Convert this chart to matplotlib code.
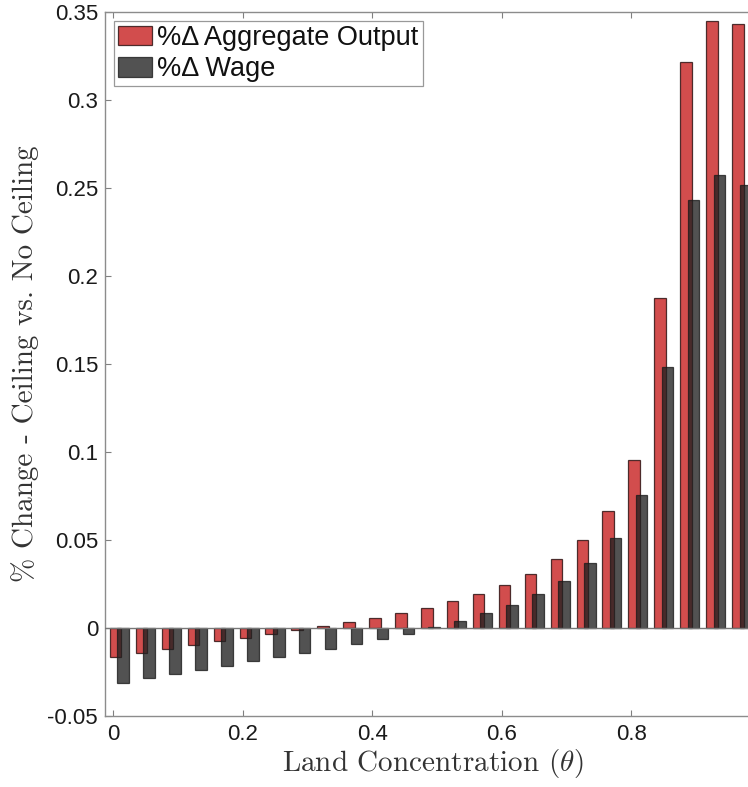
"""
Land concentration: % change in output and wage, ceiling vs. no ceiling
MATLAB-style grouped bars
"""
import matplotlib
matplotlib.use('Agg')
import matplotlib.pyplot as plt

plt.rcParams['axes.unicode_minus'] = False
plt.rcParams['mathtext.fontset'] = 'cm'

# %% data
theta = [0.01, 0.05, 0.09, 0.13, 0.17, 0.21, 0.25, 0.29, 0.33, 0.37,
         0.41, 0.45, 0.49, 0.53, 0.57, 0.61, 0.65, 0.69, 0.73, 0.77,
         0.81, 0.85, 0.89, 0.93, 0.97]
d_output = [-0.0165, -0.0142, -0.0121, -0.0098, -0.0076, -0.0055, -0.0034, -0.0011,
            0.0009, 0.0032, 0.0059, 0.0085, 0.0116, 0.0153, 0.0195, 0.0246,
            0.0307, 0.0390, 0.0498, 0.0663, 0.0957, 0.1873, 0.3214, 0.3449, 0.3430]
d_wage = [-0.0313, -0.0286, -0.0263, -0.0241, -0.0214, -0.0189, -0.0167, -0.0142,
          -0.0117, -0.0091, -0.0061, -0.0032, 0.0004, 0.0040, 0.0083, 0.0131,
          0.0191, 0.0267, 0.0367, 0.0510, 0.0754, 0.1485, 0.2432, 0.2576, 0.2517]
yticks = [-0.05, 0, 0.05, 0.1, 0.15, 0.2, 0.25, 0.3, 0.35]
ytick_labels = ['-0.05', '0', '0.05', '0.1', '0.15', '0.2', '0.25', '0.3', '0.35']
xticks = [0, 0.2, 0.4, 0.6, 0.8]
xtick_labels = ['0', '0.2', '0.4', '0.6', '0.8']

# %% figure
W, H = 748, 787
fig = plt.figure(figsize=(W / 100, H / 100), dpi=100)
# right side of the box runs off the picture
ax = fig.add_axes([105 / W, 71 / H, 656 / W, 704 / H])

bw = 0.0178
off = 0.0058
red_x = [t - off for t in theta]
blk_x = [t + off for t in theta]
ax.bar(red_x, d_output, width=bw, color=(0.78, 0.13, 0.13), alpha=0.8,
       edgecolor=(0.15, 0.05, 0.05), linewidth=0.9, label='%Δ Aggregate Output', zorder=2)
ax.bar(blk_x, d_wage, width=bw, color=(0.13, 0.13, 0.13), alpha=0.78,
       edgecolor=(0.1, 0.1, 0.1), linewidth=0.9, label='%Δ Wage', zorder=3)
ax.axhline(0, color='#777777', lw=1.0, zorder=4)

ax.set_xlim(-0.0123, 1.0)
ax.set_ylim(-0.05, 0.35)
ax.set_xticks(xticks)
ax.set_xticklabels(xtick_labels, family='Liberation Sans', fontsize=16)
ax.set_yticks(yticks)
ax.set_yticklabels(ytick_labels, family='Liberation Sans', fontsize=16)
ax.tick_params(direction='in', length=4.5, width=0.8, color='#808080',
               top=True, right=True, labelcolor='#1a1a1a')
ax.tick_params(axis='x', pad=6)
ax.tick_params(axis='y', pad=5)
for s in ax.spines.values():
    s.set_color('#8c8c8c')
    s.set_linewidth(1.0)

ax.set_xlabel(r'Land Concentration $(\theta)$', family='cmr10', fontsize=21,
              color='#333333', labelpad=1)
ax.set_ylabel('% Change - Ceiling vs. No Ceiling', family='cmr10', fontsize=21,
              color='#333333', labelpad=6)

leg = ax.legend(loc='upper left', prop={'family': 'Liberation Sans', 'size': 19.5},
                fancybox=False, framealpha=1, edgecolor='#999999', borderpad=0.15,
                handlelength=1.25, handleheight=0.75, handletextpad=0.2, labelspacing=0.2,
                borderaxespad=0.33)
leg.get_frame().set_linewidth(0.9)
for t in leg.get_texts():
    t.set_color('#111111')

fig.savefig('out.png', dpi=100)
